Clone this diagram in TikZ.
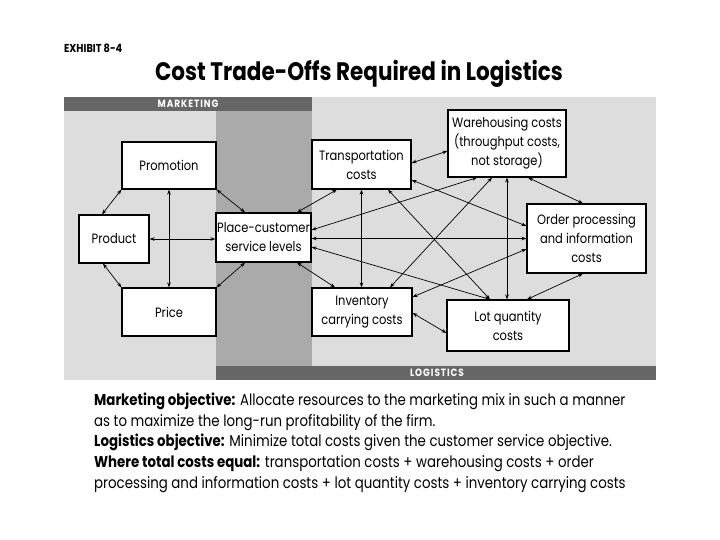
\documentclass[tikz,border=0pt]{standalone}
\usepackage{fontspec}
\setmainfont{Poppins}[FakeStretch=0.85]
\usetikzlibrary{arrows.meta,calc}
\definecolor{lgray}{gray}{0.865}
\definecolor{mgray}{gray}{0.665}
\definecolor{dgray}{gray}{0.40}
\begin{document}
\begin{tikzpicture}[x=1pt,y=-1pt,
  box/.style={draw=black,line width=1.2pt,fill=white,inner sep=0pt,align=center,
    font=\fontsize{13.5}{19}\selectfont},
  link/.style={line width=0.7pt,{Stealth[length=5pt,width=3.6pt]}-{Stealth[length=5pt,width=3.6pt]}},
  barlabel/.style={text=white,inner sep=0pt,font=\bfseries\fontsize{10.5}{11}\selectfont\addfontfeature{LetterSpace=9}},
  bodytext/.style={anchor=base west,inner sep=0pt,font=\fontsize{15.7}{18}\selectfont}]
\useasboundingbox (0,0) rectangle (720,540);
\fill[white] (0,0) rectangle (720,540);
% panels
\fill[lgray] (64,97) rectangle (656,380);
\fill[mgray] (216,111) rectangle (312,366);
\fill[dgray] (64,97) rectangle (312,111);
\fill[dgray] (216,366) rectangle (656,380);
\node[barlabel] (mkt) at (188,104) {MARKETING};
\node[barlabel] (log) at (437,373) {LOGISTICS};
% headings
\node[anchor=west,inner sep=0pt,font=\bfseries\fontsize{11.5}{12}\selectfont] (exh) at (64,48) {EXHIBIT 8-4};
\node[inner sep=0pt,font=\bfseries\fontsize{25.3}{28}\selectfont] (title) at (359,74) {Cost Trade-Offs Required in Logistics};
% boxes
\node[box,minimum width=94pt,minimum height=47pt] (promo) at (169,165.5) {Promotion};
\node[box,minimum width=70pt,minimum height=48pt] (product) at (114,239) {Product};
\node[box,minimum width=94pt,minimum height=48pt] (price) at (169,312) {Price};
\node[box,minimum width=95pt,minimum height=49pt] (place) at (263.5,237.5) {Place-customer\\service levels};
\node[box,minimum width=99pt,minimum height=49pt] (trans) at (361.5,164.5) {Transportation\\costs};
\node[box,minimum width=118pt,minimum height=67pt] (ware) at (507,143.5) {Warehousing costs\\(throughput costs,\\not storage)};
\node[box,minimum width=119pt,minimum height=69pt] (order) at (586.5,238.5) {Order processing\\and information\\costs};
\node[box,minimum width=100pt,minimum height=48pt] (inv) at (362,312) {Inventory\\carrying costs};
\node[box,minimum width=122pt,minimum height=51pt] (lot) at (508,325.5) {Lot quantity\\costs};
% marketing connectors
\draw[link] (promo.south west) -- ([xshift=-12pt]product.north);
\draw[link] ([xshift=-11pt]product.south) -- (price.north west);
\draw[link] (promo.south east) -- ([xshift=-18.5pt]place.north);
\draw[link] (price.north east) -- ([xshift=-18.5pt]place.south);
\draw[link] (promo.south) -- (price.north);
\draw[link] (product.east) -- (product.east -| place.west);
% logistics connectors
\draw[link] ([xshift=33.5pt]place.north) -- ([xshift=-24.5pt]trans.south);
\draw[link] ([xshift=33.5pt]place.south) -- ([xshift=-27pt]inv.north);
\draw[link] (order.west -| place.east) -- (order.west);
\draw[link] ([yshift=7.5pt]place.east) -- ([xshift=-30pt]ware.south);
\draw[link] ([yshift=-9.5pt]place.east) -- ([xshift=-18pt]lot.north);
\draw[link] ([yshift=1.5pt]trans.east) -- ([yshift=-7.5pt]ware.west);
\draw[link] ([yshift=-15.5pt]trans.east) -- ([yshift=12.5pt]order.west);
\draw[link] (trans.south) -- (trans.south |- inv.north);
\draw[link] ([xshift=26.5pt]trans.south) -- ([xshift=-18pt]lot.north);
\draw[link] ([xshift=-15pt]ware.south) -- ([xshift=28pt]inv.north);
\draw[link] (ware.south) -- (ware.south |- lot.north);
\draw[link] ([xshift=21pt]ware.south) -- ([xshift=-3.5pt]order.north);
\draw[link] ([yshift=-10.5pt]order.west) -- ([yshift=15pt]inv.east);
\draw[link] ([xshift=-3.5pt]order.south) -- ([xshift=19pt]lot.north);
\draw[link] ([yshift=-1pt]inv.east) -- ([yshift=-7.5pt]lot.west);
% objectives text
\node[bodytext] (l1) at (94,405) {\textbf{Marketing objective:} Allocate resources to the marketing mix in such a manner};
\node[bodytext] (l2) at (94,426) {as to maximize the long-run profitability of the firm.};
\node[bodytext] (l3) at (94,446) {\textbf{Logistics objective:} Minimize total costs given the customer service objective.};
\node[bodytext] (l4) at (94,467) {\textbf{Where total costs equal:} transportation costs + warehousing costs + order};
\node[bodytext] (l5) at (94,488) {processing and information costs + lot quantity costs + inventory carrying costs};
\end{tikzpicture}
\end{document}
